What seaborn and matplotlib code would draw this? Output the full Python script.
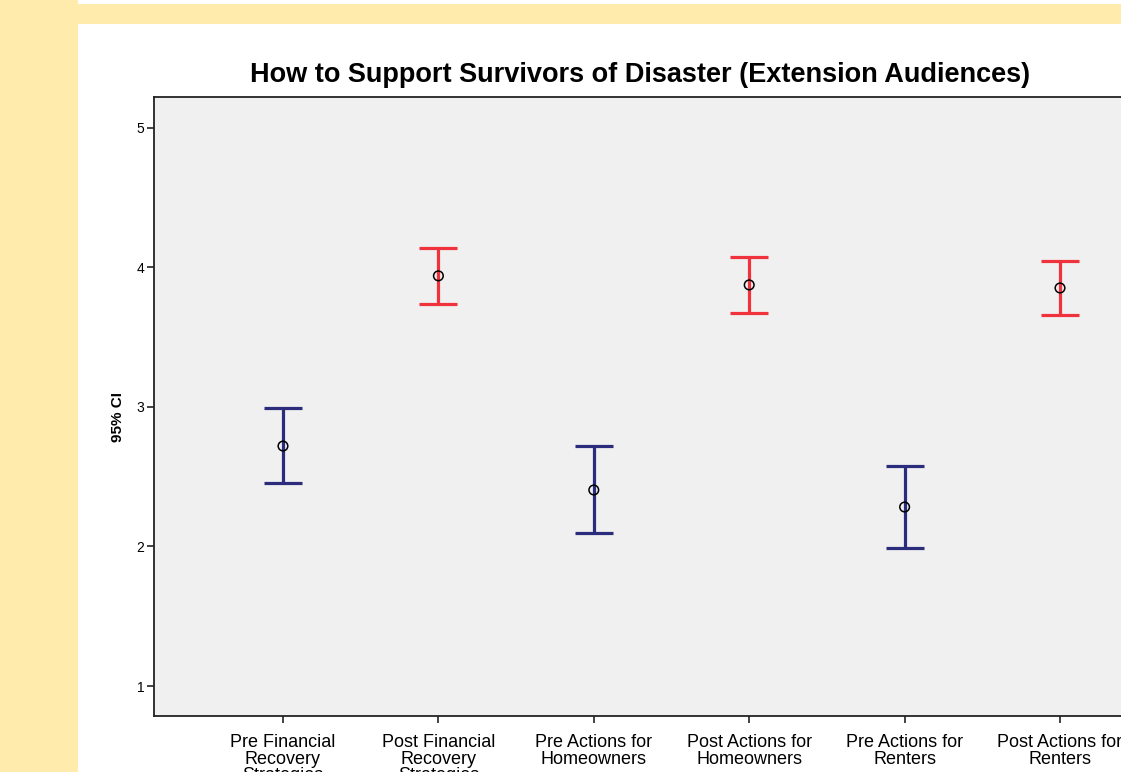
import matplotlib
matplotlib.use("Agg")
import matplotlib.pyplot as plt
import seaborn as sns
import pandas as pd
from matplotlib.patches import Rectangle

categories = [
    "Pre Financial\nRecovery\nStrategies",
    "Post Financial\nRecovery\nStrategies",
    "Pre Actions for\nHomeowners",
    "Post Actions for\nHomeowners",
    "Pre Actions for\nRenters",
    "Post Actions for\nRenters",
]
means = [2.72, 3.94, 2.405, 3.875, 2.283, 3.853]
lower = [2.455, 3.74, 2.097, 3.674, 1.989, 3.66]
upper = [2.99, 4.14, 2.72, 4.075, 2.577, 4.047]
phase = ["Pre", "Post", "Pre", "Post", "Pre", "Post"]
yticks = [1, 2, 3, 4, 5]

colors = {"Pre": "#2B2C7C", "Post": "#F0323C"}

df = pd.DataFrame({"category": categories, "mean": means, "lower": lower,
                   "upper": upper, "phase": phase})

sns.set_theme(style="white")
plt.rcParams["font.family"] = ["Liberation Sans", "DejaVu Sans"]
plt.rcParams["text.color"] = "black"

fig = plt.figure(figsize=(11.21, 7.72), dpi=100, facecolor="white")
W, H = 1121, 772
# yellow frame strips
fig.patches.append(Rectangle((0, 0), 78 / W, 1, transform=fig.transFigure,
                             facecolor="#FFEBAC", edgecolor="none", zorder=0))
fig.patches.append(Rectangle((78 / W, 1 - 24 / H), 1, 20 / H, transform=fig.transFigure,
                             facecolor="#FFEBAC", edgecolor="none", zorder=0))

ax = fig.add_axes([154 / W, (H - 716) / H, (1189 - 154) / W, (716 - 97) / H])
ax.set_facecolor("#F0F0F0")

for i, row in df.iterrows():
    c = colors[row["phase"]]
    ax.errorbar(i, row["mean"],
                yerr=[[row["mean"] - row["lower"]], [row["upper"] - row["mean"]]],
                fmt="none", ecolor=c, elinewidth=2.3, capsize=13.7, capthick=2.3, zorder=2)

sns.scatterplot(data=df, x="category", y="mean", ax=ax, marker="o", s=48,
                facecolors="none", edgecolor="black", linewidth=1.1, zorder=3, legend=False)

ax.set_xlim(-0.83, 5.83)
ax.set_ylim(0.785, 5.222)
ax.set_yticks(yticks)
ax.set_yticklabels([str(t) for t in yticks], fontsize=10, color="black")
ax.set_xticks(range(len(categories)))
ax.set_xticklabels(categories, fontsize=13, linespacing=0.97, color="black")
ax.tick_params(axis="both", which="both", direction="out", length=5, width=1.2,
               color="#222222", bottom=True, left=True, pad=2)
ax.tick_params(axis="x", pad=8)
ax.set_xlabel("")
ax.set_ylabel("95% CI", fontsize=11, fontweight="bold", color="black")
ax.yaxis.set_label_coords(-(154 - 125) / (1189 - 154), (716 - 417) / (716 - 97))
for side in ["left", "top", "bottom", "right"]:
    ax.spines[side].set_color("#222222")
    ax.spines[side].set_linewidth(1.3)

fig.text(640 / W, 1 - 75 / H, "How to Support Survivors of Disaster (Extension Audiences)",
         ha="center", va="center", fontsize=19.5, fontweight="bold", color="black")

fig.savefig("out.png", dpi=100, facecolor="white")
